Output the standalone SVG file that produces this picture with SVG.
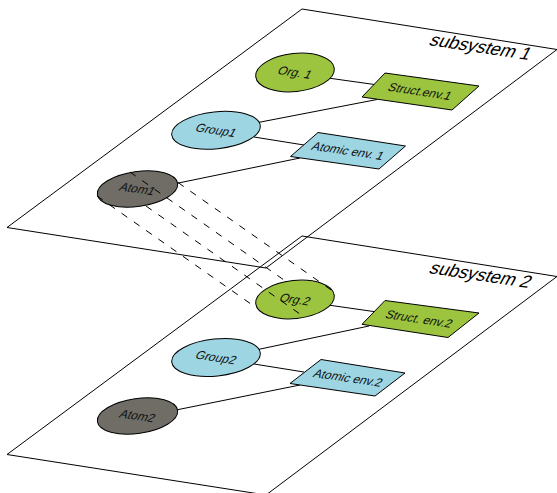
<svg xmlns="http://www.w3.org/2000/svg" width="557" height="493" viewBox="0 0 557 493">
  <style>
    .plane { fill: none; stroke: #000; stroke-width: 1; }
    .link { stroke: #000; stroke-width: 1; fill: none; }
    .proj { stroke: #000; stroke-width: 1; fill: none; stroke-dasharray: 7 8; }
    .node { stroke: #000; stroke-width: 1; }
    .green { fill: #9cc43e; }
    .blue { fill: #9dd5e3; }
    .gray { fill: #6f6d66; }
    .lbl { font-family: "Liberation Sans", Arial, sans-serif; font-size: 12px; fill: #111; text-anchor: middle; }
    .title { font-family: "Liberation Sans", Arial, sans-serif; font-size: 18px; fill: #000; }
  </style>

  <rect x="0" y="0" width="557" height="493" fill="#fff"/>

  <!-- two stacked subsystem planes -->
  <g id="plane2">
    <path class="plane" d="M302,236 L557,276.5 L266,495 L7,454.5 Z"/>
    <text class="title" transform="translate(428,273) rotate(8.5) skewX(-20)">subsystem 2</text>
  </g>
  <g id="plane1">
    <path class="plane" d="M302,9 L557,49.5 L266,268 L7,227.5 Z"/>
    <text class="title" transform="translate(428,45) rotate(8.5) skewX(-20)">subsystem 1</text>
  </g>

  <!-- solid links inside each subsystem -->
  <g id="connectors">
    <line class="link" x1="328" y1="78" x2="378" y2="85"/>
    <line class="link" x1="258" y1="122.5" x2="377" y2="99.5"/>
    <line class="link" x1="254" y1="137" x2="304" y2="145"/>
    <line class="link" x1="176" y1="183.5" x2="300" y2="158"/>
    <line class="link" x1="328" y1="305" x2="377" y2="312"/>
    <line class="link" x1="258" y1="349.5" x2="369" y2="326"/>
    <line class="link" x1="254" y1="364" x2="304" y2="372"/>
    <line class="link" x1="176" y1="410" x2="300" y2="385"/>
  </g>

  <!-- subsystem 1 nodes -->
  <g id="org1">
    <ellipse class="node green" cx="295" cy="72.5" rx="39.5" ry="19" transform="rotate(-6 295 72.5)"/>
    <text class="lbl" transform="translate(295,72.5) rotate(8.5) skewX(-20)" dy="4">Org. 1</text>
  </g>
  <g id="struct1">
    <polygon class="node green" points="385,73 479,86 452,110 362,97"/>
    <text class="lbl" transform="translate(420,91.5) rotate(8.5) skewX(-20)" dy="4">Struct.env.1</text>
  </g>
  <g id="group1">
    <ellipse class="node blue" cx="216" cy="130.3" rx="44.5" ry="18.5" transform="rotate(-6 216 130.3)"/>
    <text class="lbl" transform="translate(216,130.3) rotate(8.5) skewX(-20)" dy="4">Group1</text>
  </g>
  <g id="atomic1">
    <polygon class="node blue" points="318,132.5 405.5,146 379,169 290.5,156.5"/>
    <text class="lbl" transform="translate(348,151) rotate(8.5) skewX(-20)" dy="4">Atomic env. 1</text>
  </g>
  <g id="atom1">
    <ellipse class="node gray" cx="137.5" cy="189" rx="40.5" ry="17.5" transform="rotate(-8 137.5 189)"/>
    <text class="lbl" transform="translate(137.5,189) rotate(8.5) skewX(-20)" dy="4">Atom1</text>
  </g>

  <!-- subsystem 2 nodes -->
  <g id="org2">
    <ellipse class="node green" cx="295" cy="299.5" rx="39.5" ry="19" transform="rotate(-6 295 299.5)"/>
    <text class="lbl" transform="translate(295,299.5) rotate(8.5) skewX(-20)" dy="4">Org.2</text>
  </g>
  <g id="struct2">
    <polygon class="node green" points="385,300.5 479,313 448,337.5 362,324.3"/>
    <text class="lbl" transform="translate(419,319) rotate(8.5) skewX(-20)" dy="4">Struct. env.2</text>
  </g>
  <g id="group2">
    <ellipse class="node blue" cx="216" cy="357.5" rx="44.5" ry="18.5" transform="rotate(-6 216 357.5)"/>
    <text class="lbl" transform="translate(216,357.5) rotate(8.5) skewX(-20)" dy="4">Group2</text>
  </g>
  <g id="atomic2">
    <polygon class="node blue" points="321,359.5 405,373 375,396 290,383.5"/>
    <text class="lbl" transform="translate(348,378) rotate(8.5) skewX(-20)" dy="4">Atomic env.2</text>
  </g>
  <g id="atom2">
    <ellipse class="node gray" cx="137.5" cy="416" rx="40.5" ry="17.5" transform="rotate(-8 137.5 416)"/>
    <text class="lbl" transform="translate(137.5,416) rotate(8.5) skewX(-20)" dy="4">Atom2</text>
  </g>

  <!-- dashed projection of Atom1 onto Org.2 -->
  <g id="projection">
    <line class="proj" x1="178" y1="182.5" x2="335.5" y2="293"/>
    <line class="proj" x1="130" y1="172" x2="287.5" y2="282.5"/>
    <line class="proj" x1="146" y1="206" x2="303.5" y2="316.5"/>
    <line class="proj" x1="97" y1="196" x2="254.5" y2="306.5"/>
  </g>
</svg>
